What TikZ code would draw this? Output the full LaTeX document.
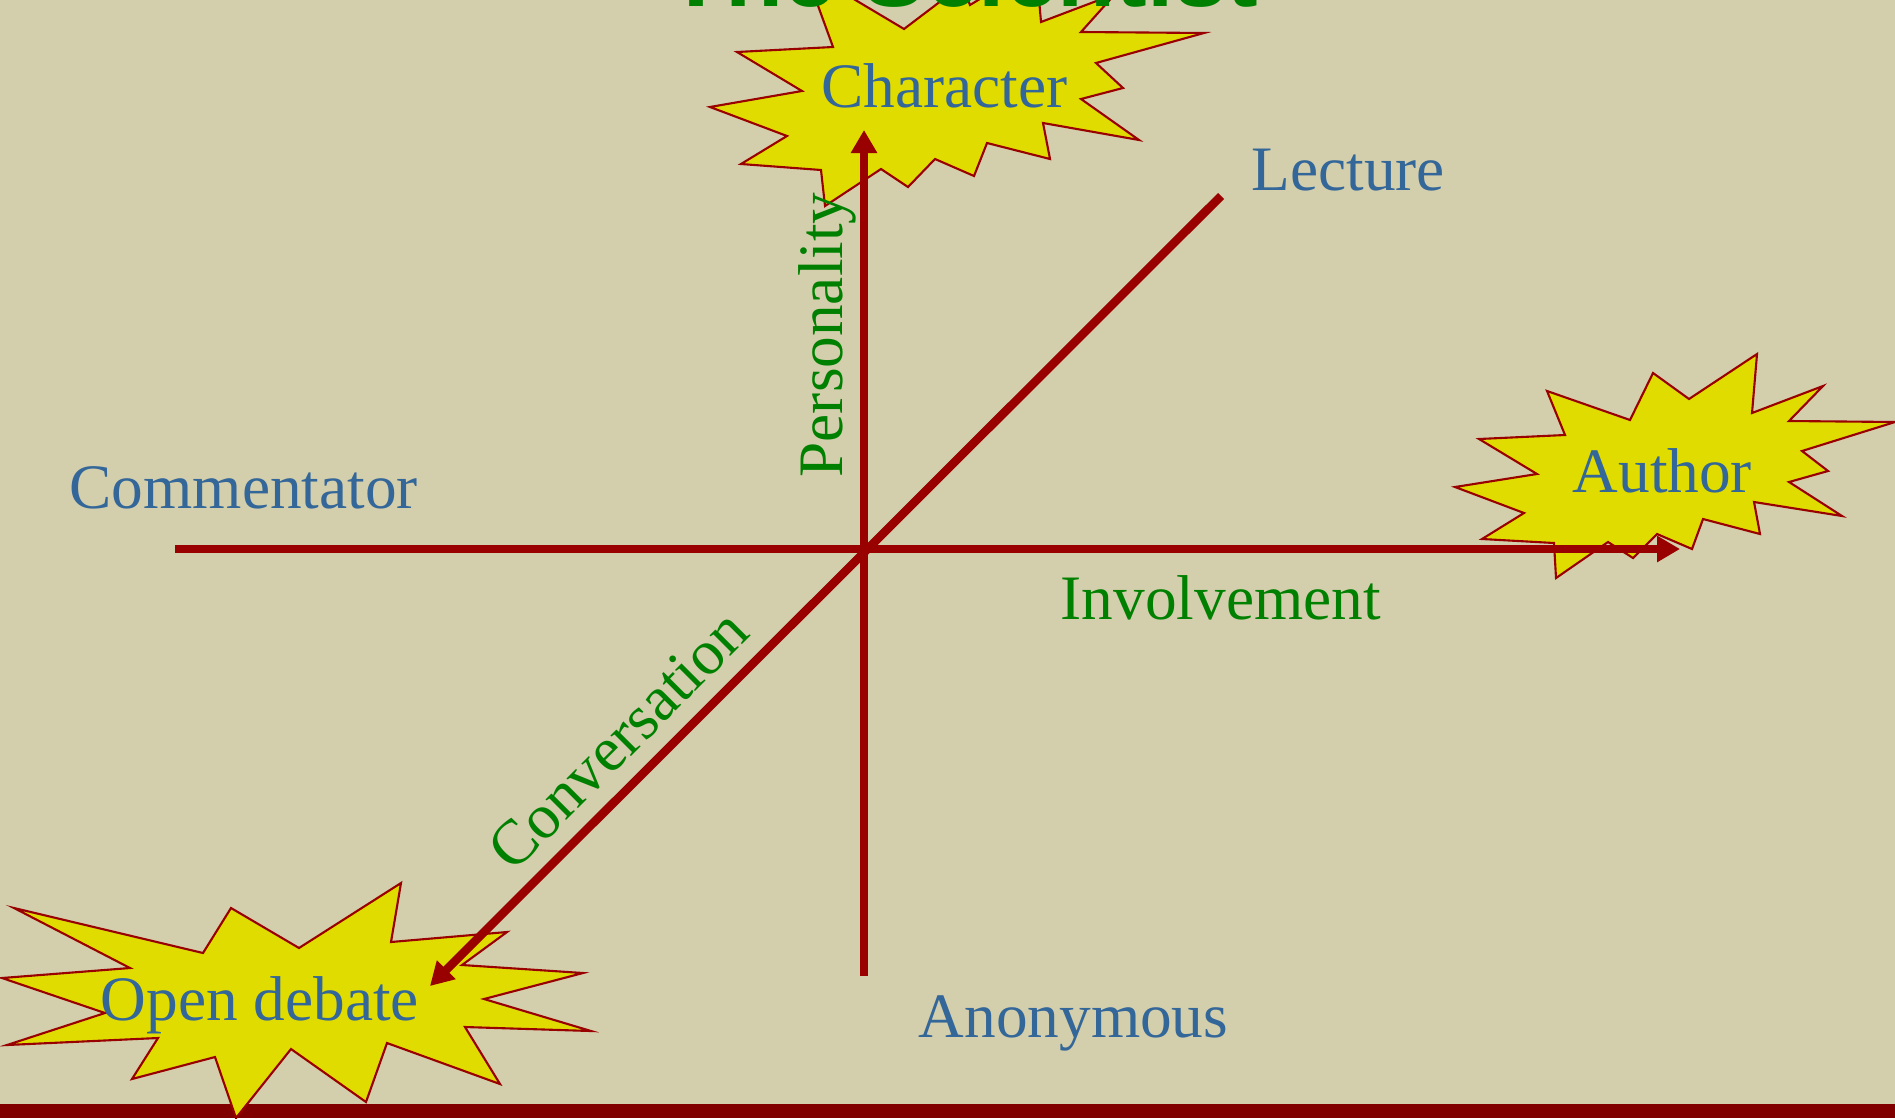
\documentclass[tikz,border=0pt]{standalone}
\usepackage{fontspec}
\setmainfont{Liberation Serif}
\newfontfamily\titlefont{Liberation Sans}
\usetikzlibrary{arrows.meta}
\definecolor{bgtan}{RGB}{211,206,171}
\definecolor{axisred}{RGB}{153,0,0}
\definecolor{barred}{RGB}{128,0,0}
\definecolor{burstyellow}{RGB}{224,220,0}
\definecolor{poleblue}{RGB}{51,102,153}
\definecolor{dimgreen}{RGB}{0,128,0}

\begin{document}
\begin{tikzpicture}[x=0.01cm,y=-0.01cm,
    axis/.style={line width=0.085cm,axisred},
    tip/.style={-{Triangle[length=0.23cm,width=0.25cm]}},
    burst/.style={fill=burstyellow,draw=axisred,line width=0.6pt},
    pole/.style={poleblue,inner sep=0pt,anchor=base west,font=\fontsize{18}{22}\selectfont},
    dim/.style={dimgreen,inner sep=0pt,font=\fontsize{18}{22}\selectfont}]
\useasboundingbox (0,0) rectangle (1895,1118);
\fill[bgtan] (0,0) rectangle (1895,1118);
\fill[barred] (0,1104) rectangle (1895,1118);

\filldraw[burst] (710,107) -- (802,91) -- (737,52) -- (833,47) -- (805,-30) -- (904,29)
    -- (962,-15) -- (970,5) -- (1036,-35) -- (1041,22) -- (1115,-6) -- (1081,32)
    -- (1204,33) -- (1096,63) -- (1123,88) -- (1081,99) -- (1139,140) -- (1043,123)
    -- (1050,159) -- (987,143) -- (974,176) -- (935,159) -- (908,187) -- (881,169)
    -- (825,206) -- (821,170) -- (741,164) -- (787,136) -- cycle;
\filldraw[burst] (1455,487) -- (1537,474) -- (1479,439) -- (1565,435) -- (1547,391)
    -- (1630,420) -- (1653,373) -- (1689,399) -- (1757,354) -- (1752,413) -- (1823,386)
    -- (1789,421) -- (1895,422) -- (1802,451) -- (1828,471) -- (1789,482) -- (1842,516)
    -- (1754,502) -- (1760,534) -- (1703,519) -- (1692,549) -- (1657,534) -- (1633,558)
    -- (1608,542) -- (1556,578) -- (1554,543) -- (1482,539) -- (1524,513) -- cycle;
\filldraw[burst] (2,978) -- (130,968) -- (14,908) -- (203,953) -- (231,908) -- (299,948)
    -- (401,883) -- (391,942) -- (507,932) -- (462,965) -- (583,973) -- (484,999)
    -- (591,1031) -- (465,1027) -- (500,1084) -- (387,1043) -- (366,1102) -- (291,1049)
    -- (236,1118) -- (215,1057) -- (132,1079) -- (158,1038) -- (7,1045) -- (105,1013) -- cycle;

\coordinate (origin) at (864,549);
\coordinate (west) at (175,549);
\coordinate (east) at (1680,549);
\coordinate (south) at (864,976);
\coordinate (north) at (864,130);
\coordinate (far) at (1221,196);
\coordinate (near) at (430,986);

\draw[axis,tip] (west) -- (east);
\draw[axis,tip] (south) -- (north);
\draw[axis,tip] (far) -- (near);

\node[pole] (lecture) at (1251,190) {Lecture};
\node[pole] (commentator) at (69,508) {Commentator};
\node[pole] (anonymous) at (918,1037) {Anonymous};
\node[pole] (character) at (821,107) {Character};
\node[pole] (author) at (1572,492) {Author};
\node[pole] (debate) at (100,1020) {Open debate};
\node[dim,anchor=base west] (involvement) at (1060,619) {Involvement};
\node[dim,anchor=base west,rotate=90] (personality) at (842,478) {Personality};
\node[dim,rotate=45] (conversation) at (618,740) {Conversation};

\node[dimgreen,inner sep=0pt,anchor=base,font=\titlefont\bfseries\fontsize{27}{30}\selectfont] (title) at (963,6) {The Scientist};
\end{tikzpicture}
\end{document}
